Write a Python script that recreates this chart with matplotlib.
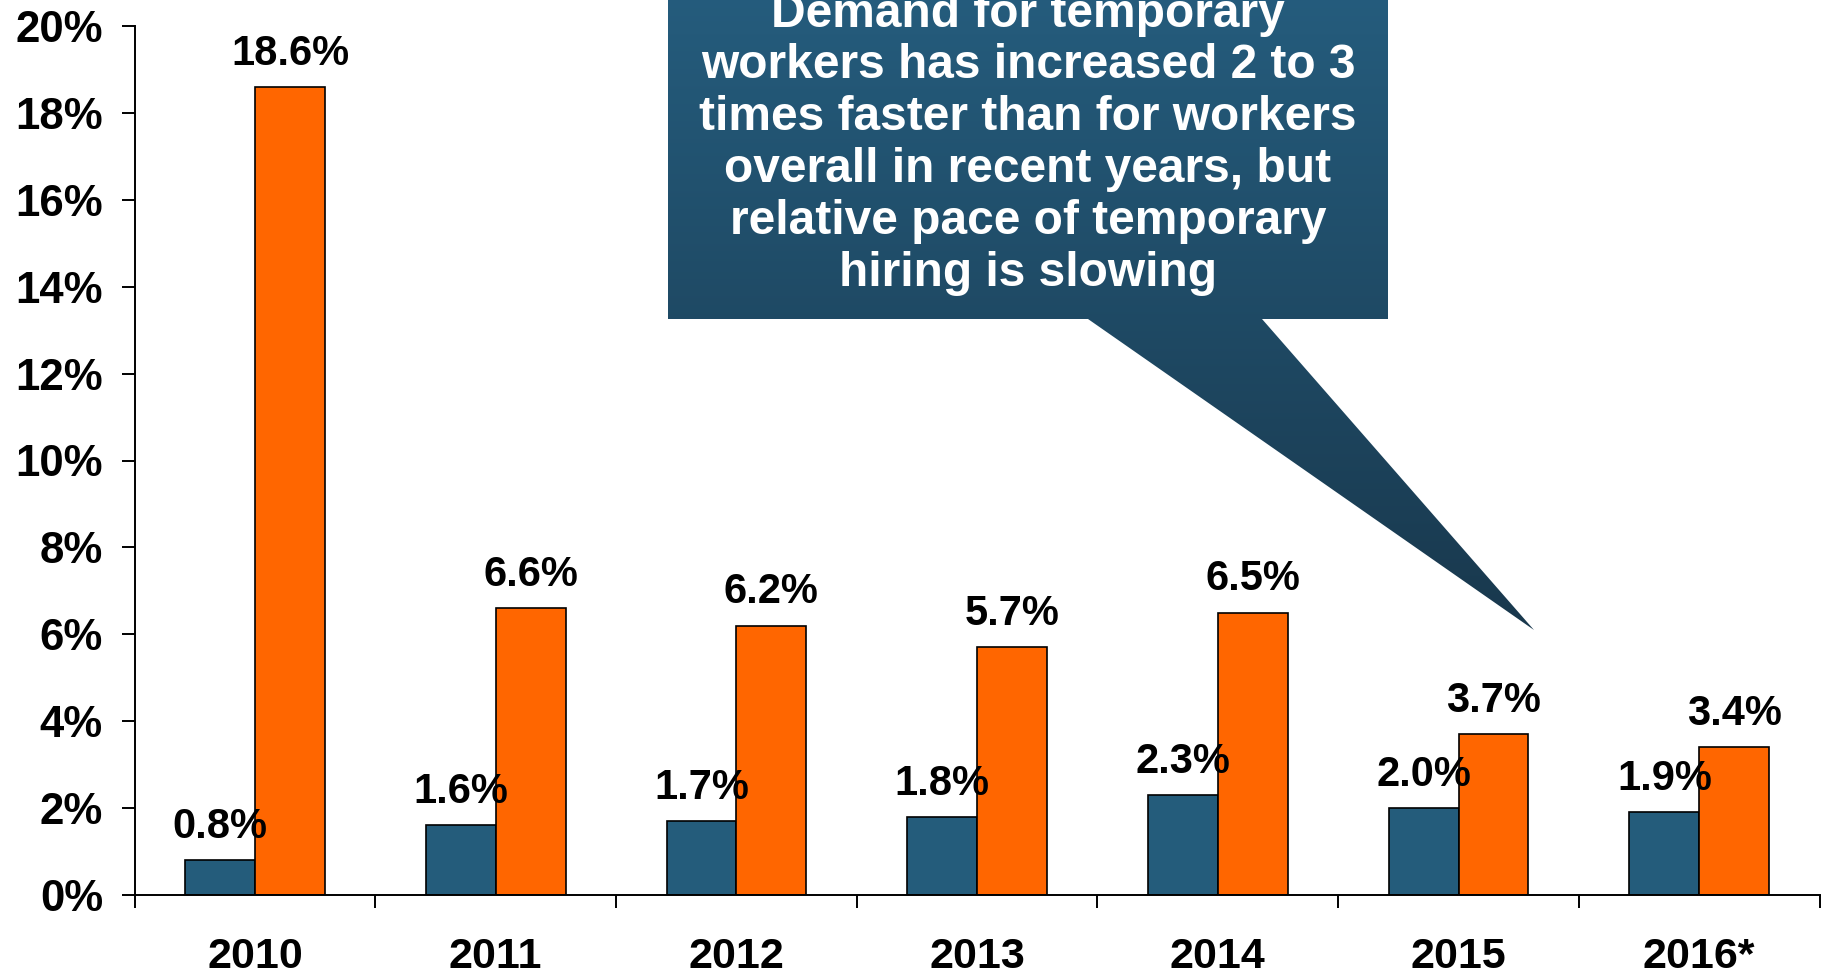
import numpy as np
import matplotlib
matplotlib.use("Agg")
import matplotlib.pyplot as plt
from matplotlib.patches import Polygon
from matplotlib.ticker import FixedLocator

plt.rcParams['font.family'] = ['Liberation Sans', 'DejaVu Sans']
plt.rcParams['font.weight'] = 'bold'

# job growth, % change year over year
years = ['2010', '2011', '2012', '2013', '2014', '2015', '2016*']
all_workers = [0.8, 1.6, 1.7, 1.8, 2.3, 2.0, 1.9]
temp_workers = [18.6, 6.6, 6.2, 5.7, 6.5, 3.7, 3.4]

callout_lines = [
    'Demand for temporary',
    'workers has increased 2 to 3',
    'times faster than for workers',
    'overall in recent years, but',
    'relative pace of temporary',
    'hiring is slowing',
]

BLUE = '#245c7b'
ORANGE = '#ff6600'

W, H = 1824, 974
fig = plt.figure(figsize=(W / 100, H / 100), dpi=100)
ax = fig.add_axes([134.7 / W, 79 / H, (1819.6 - 134.7) / W, (895 - 26) / H])

x = np.arange(len(years))
bw = 0.29
blue_bars = ax.bar(x - bw / 2, all_workers, bw, color=BLUE, edgecolor='black', linewidth=1.2, zorder=2)
orange_bars = ax.bar(x + bw / 2, temp_workers, bw, color=ORANGE, edgecolor='black', linewidth=1.2, zorder=2)

for bars, vals in ((orange_bars, temp_workers), (blue_bars, all_workers)):
    for b, v in zip(bars, vals):
        ax.annotate(f'{v:.1f}%', (b.get_x() + b.get_width() / 2, v),
                    xytext=(0, 16), textcoords='offset points',
                    ha='center', va='baseline', fontsize=30, fontweight='bold', zorder=5)

ax.set_xlim(-0.5, len(years) - 0.5)
ax.set_ylim(0, 20)
ax.set_yticks(np.arange(0, 21, 2))
ax.set_yticklabels([f'{t}%' for t in range(0, 21, 2)])
ax.set_xticks(x)
ax.set_xticklabels(years)
ax.xaxis.set_minor_locator(FixedLocator(np.arange(-0.5, len(years), 1.0)))

for s in ('top', 'right'):
    ax.spines[s].set_visible(False)
for s in ('left', 'bottom'):
    ax.spines[s].set_linewidth(1.4)

ax.tick_params(axis='y', direction='out', length=9.4, width=1.4, pad=13.5, labelsize=31.5)
ax.tick_params(axis='x', which='major', length=0, pad=30, labelsize=31)
ax.tick_params(axis='x', which='minor', direction='out', length=9.4, width=1.4)

# speech-bubble callout drawn in pixel space on a full-figure overlay
ov = fig.add_axes([0, 0, 1, 1], zorder=10)
ov.set_xlim(0, W)
ov.set_ylim(H, 0)
ov.axis('off')
ov.patch.set_alpha(0)

shape = [(668, -20), (1388, -20), (1388, 319), (1262, 319), (1534, 630),
         (1088, 319), (668, 319)]
poly = Polygon(shape, closed=True, facecolor='none', edgecolor='none')
ov.add_patch(poly)

c_top = np.array([0x25, 0x5d, 0x7e]) / 255
c_bot = np.array([0x19, 0x38, 0x4d]) / 255
t = np.linspace(0, 1, 256)[:, None]
grad = (c_top[None, :] * (1 - t) + c_bot[None, :] * t)[:, None, :]
img = ov.imshow(grad, extent=(668, 1534, 630, -20), aspect='auto', interpolation='bilinear')
img.set_clip_path(poly)
ov.set_xlim(0, W)
ov.set_ylim(H, 0)

for i, line in enumerate(callout_lines):
    ov.text(1028, 26.6 + 51.8 * i, line, ha='center', va='baseline', color='white',
            fontsize=34.5, fontweight='bold')

fig.savefig('out.png', dpi=100, facecolor='white')
